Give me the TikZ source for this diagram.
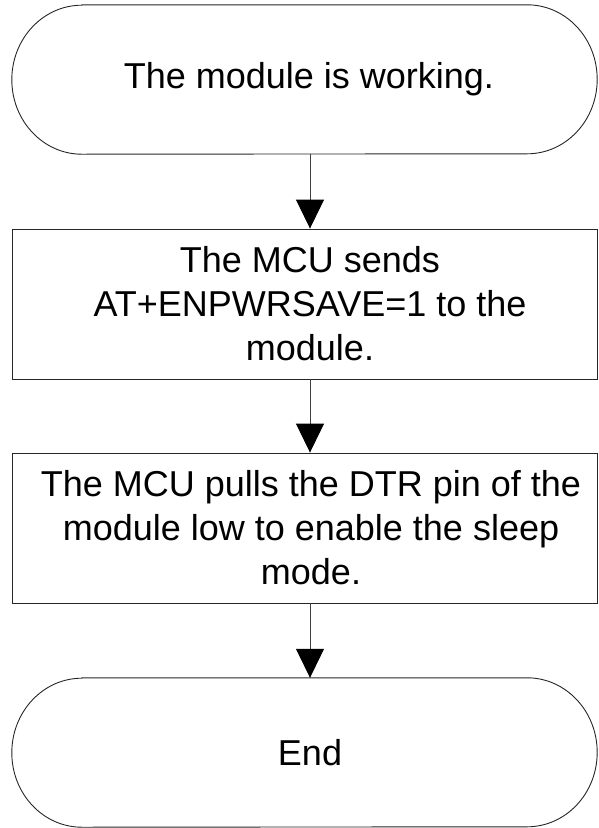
\documentclass[tikz,border=0pt]{standalone}
\usepackage{fontspec}
\setmainfont{Liberation Sans}
\usetikzlibrary{arrows.meta}
\begin{document}
\begin{tikzpicture}[x=1pt,y=-1pt,
  txt/.style={font=\fontsize{36}{44}\selectfont, align=center, inner sep=0pt},
  procbox/.style={draw=black!85, line width=0.9pt, minimum width=585pt, minimum height=150pt, inner sep=0pt},
  term/.style={minimum width=585pt, minimum height=149pt, inner sep=0pt},
  termline/.style={draw=black!85, line width=0.9pt},
  flow/.style={draw=black!75, line width=1pt, -{Triangle[length=29pt,width=28pt,color=black]}}]
\useasboundingbox (0,0) rectangle (598,828);
\clip (0,0) rectangle (598,828);

\node[term] (t1) at (304.5,79.5) {};
\draw[termline] ([xshift=70pt]t1.north west) -- ([xshift=-70pt]t1.north east)
  arc[start angle=90, end angle=-90, x radius=70pt, y radius=74.5pt]
  -- ([xshift=70pt]t1.south west)
  arc[start angle=270, end angle=90, x radius=70pt, y radius=74.5pt] -- cycle;
\node[txt] (t1t) at (309,79.5) {The module is working.};

\node[procbox] (b2) at (304.5,304) {};
\node[txt] (b2t) at (310,304) {The MCU sends\\AT+ENPWRSAVE=1 to the\\module.};

\node[procbox] (b3) at (304.5,528) {};
\node[txt] (b3t) at (311,528) {The MCU pulls the DTR pin of the\\module low to enable the sleep\\mode.};

\node[term] (t4) at (304.5,752.5) {};
\draw[termline] ([xshift=70pt]t4.north west) -- ([xshift=-70pt]t4.north east)
  arc[start angle=90, end angle=-90, x radius=70pt, y radius=74.5pt]
  -- ([xshift=70pt]t4.south west)
  arc[start angle=270, end angle=90, x radius=70pt, y radius=74.5pt] -- cycle;
\node[txt] (t4t) at (310,752.5) {End};

\draw[flow] ([xshift=5.5pt]t1.south) -- ([xshift=5.5pt]b2.north);
\draw[flow] ([xshift=5.5pt]b2.south) -- ([xshift=5.5pt]b3.north);
\draw[flow] ([xshift=5.5pt]b3.south) -- ([xshift=5.5pt]t4.north);
\end{tikzpicture}
\end{document}
